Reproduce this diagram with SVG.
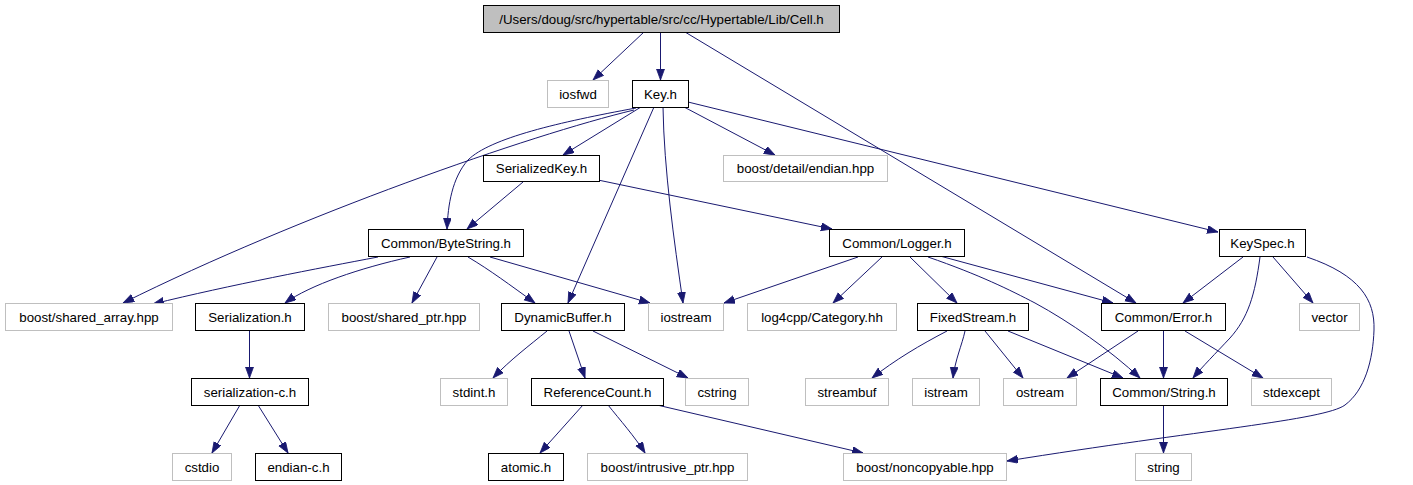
<svg xmlns="http://www.w3.org/2000/svg" width="1413" height="485" viewBox="0 0 1413 485">
<style>
.n rect{fill:#fff;stroke:#000;stroke-width:1}
.n.ext rect{stroke:#bfbfbf}
.n.root rect{fill:#bfbfbf}
.n text{font-family:"Liberation Sans",Arial,Helvetica,sans-serif;font-size:13.3px;fill:#000;text-anchor:middle}
#edges path{fill:none;stroke:#191970;stroke-width:1;marker-end:url(#ah)}
</style>
<defs>
<marker id="ah" markerUnits="userSpaceOnUse" markerWidth="13" markerHeight="10" refX="11" refY="4" orient="auto">
<path d="M0,0 L11,4 L0,8 z" fill="#191970" stroke="#191970" stroke-width="0.8"/>
</marker>
</defs>
<rect width="1413" height="485" fill="#fff"/>
<g id="edges">
<path d="M644,32 L593,80"/>
<path d="M660.5,32 L660.5,80"/>
<path d="M685,32 L1136,303"/>
<path d="M634,110 C530,135 300,215 123,303"/>
<path d="M636,108 C560,122 490,138 468,160 C452,178 448,205 447,229"/>
<path d="M641,107 L563,155"/>
<path d="M654,107 L568,303"/>
<path d="M663,107 C664,170 674,240 683,303"/>
<path d="M684,107 L775,155"/>
<path d="M688,102 L1218,232"/>
<path d="M523,182 L467,229"/>
<path d="M598,180 L832,229"/>
<path d="M378,257 C320,268 230,285 153,304"/>
<path d="M410,257 C360,268 310,285 285,303"/>
<path d="M437,257 L412,303"/>
<path d="M468,257 C490,270 510,285 535,303"/>
<path d="M490,257 L650,303"/>
<path d="M858,257 L724,303"/>
<path d="M882,257 L833,303"/>
<path d="M910,257 L957,303"/>
<path d="M940,256 L1113,303"/>
<path d="M928,257 C980,275 1010,290 1035,303 C1070,322 1110,350 1140,378"/>
<path d="M1243,257 L1183,303"/>
<path d="M1260,257 C1255,295 1248,318 1230,338 C1215,354 1203,366 1193,378"/>
<path d="M1273,257 L1313,303"/>
<path d="M1307,257 C1360,275 1375,300 1374,330 C1373,360 1365,390 1345,405 C1325,420 1200,430 1007,461"/>
<path d="M1138,331 L1067,378"/>
<path d="M1163.5,331 L1163.5,378"/>
<path d="M1185,331 L1263,378"/>
<path d="M947,331 C920,345 895,360 872,378"/>
<path d="M965,331 C962,345 955,360 953,378"/>
<path d="M985,331 L1023,378"/>
<path d="M1008,331 L1123,378"/>
<path d="M1163.5,405 L1163.5,453"/>
<path d="M547,331 C530,345 510,360 493,378"/>
<path d="M569,331 L585,378"/>
<path d="M593,331 L688,378"/>
<path d="M583,405 L540,453"/>
<path d="M608,405 C620,420 635,437 645,453"/>
<path d="M657,405 L863,453"/>
<path d="M249.5,331 L249.5,378"/>
<path d="M240,405 L212,453"/>
<path d="M258,405 L288,453"/>
</g>
<g id="cell" class="n root"><rect x="483.5" y="5.5" width="356" height="27"/><text x="661.5" y="23.5">/Users/doug/src/hypertable/src/cc/Hypertable/Lib/Cell.h</text></g>
<g id="iosfwd" class="n ext"><rect x="547.5" y="80.5" width="61" height="27"/><text x="578" y="98.5">iosfwd</text></g>
<g id="key" class="n"><rect x="632.5" y="80.5" width="56" height="27"/><text x="660.5" y="98.5">Key.h</text></g>
<g id="serializedkey" class="n"><rect x="483.5" y="155.5" width="116" height="26"/><text x="541.5" y="173">SerializedKey.h</text></g>
<g id="endian" class="n ext"><rect x="723.5" y="155.5" width="164" height="26"/><text x="805.5" y="173">boost/detail/endian.hpp</text></g>
<g id="bytestring" class="n"><rect x="368.5" y="229.5" width="155" height="27"/><text x="446" y="247.5">Common/ByteString.h</text></g>
<g id="logger" class="n"><rect x="829.5" y="229.5" width="135" height="27"/><text x="897" y="247.5">Common/Logger.h</text></g>
<g id="keyspec" class="n"><rect x="1219.5" y="229.5" width="86" height="27"/><text x="1262.5" y="247.5">KeySpec.h</text></g>
<g id="sharedarray" class="n ext"><rect x="5.5" y="303.5" width="167" height="27"/><text x="89" y="321.5">boost/shared_array.hpp</text></g>
<g id="serialization" class="n"><rect x="195.5" y="303.5" width="109" height="27"/><text x="250" y="321.5">Serialization.h</text></g>
<g id="sharedptr" class="n ext"><rect x="328.5" y="303.5" width="151" height="27"/><text x="404" y="321.5">boost/shared_ptr.hpp</text></g>
<g id="dynamicbuffer" class="n"><rect x="501.5" y="303.5" width="123" height="27"/><text x="563" y="321.5">DynamicBuffer.h</text></g>
<g id="iostream" class="n ext"><rect x="648.5" y="303.5" width="75" height="27"/><text x="686" y="321.5">iostream</text></g>
<g id="category" class="n ext"><rect x="747.5" y="303.5" width="149" height="27"/><text x="822" y="321.5">log4cpp/Category.hh</text></g>
<g id="fixedstream" class="n"><rect x="917.5" y="303.5" width="111" height="27"/><text x="973" y="321.5">FixedStream.h</text></g>
<g id="error" class="n"><rect x="1101.5" y="303.5" width="124" height="27"/><text x="1163.5" y="321.5">Common/Error.h</text></g>
<g id="vector" class="n ext"><rect x="1299.5" y="303.5" width="60" height="27"/><text x="1329.5" y="321.5">vector</text></g>
<g id="serializationc" class="n"><rect x="191.5" y="378.5" width="117" height="27"/><text x="250" y="396.5">serialization-c.h</text></g>
<g id="stdint" class="n ext"><rect x="440.5" y="378.5" width="67" height="27"/><text x="474" y="396.5">stdint.h</text></g>
<g id="referencecount" class="n"><rect x="531.5" y="378.5" width="132" height="27"/><text x="597.5" y="396.5">ReferenceCount.h</text></g>
<g id="cstring" class="n ext"><rect x="685.5" y="378.5" width="63" height="27"/><text x="717" y="396.5">cstring</text></g>
<g id="streambuf" class="n ext"><rect x="805.5" y="378.5" width="83" height="27"/><text x="847" y="396.5">streambuf</text></g>
<g id="istream" class="n ext"><rect x="912.5" y="378.5" width="67" height="27"/><text x="946" y="396.5">istream</text></g>
<g id="ostream" class="n ext"><rect x="1003.5" y="378.5" width="73" height="27"/><text x="1040" y="396.5">ostream</text></g>
<g id="commonstring" class="n"><rect x="1100.5" y="378.5" width="127" height="27"/><text x="1164" y="396.5">Common/String.h</text></g>
<g id="stdexcept" class="n ext"><rect x="1251.5" y="378.5" width="80" height="27"/><text x="1291.5" y="396.5">stdexcept</text></g>
<g id="cstdio" class="n ext"><rect x="172.5" y="453.5" width="59" height="27"/><text x="202" y="471.5">cstdio</text></g>
<g id="endianc" class="n"><rect x="255.5" y="453.5" width="86" height="27"/><text x="298.5" y="471.5">endian-c.h</text></g>
<g id="atomic" class="n"><rect x="488.5" y="453.5" width="75" height="27"/><text x="526" y="471.5">atomic.h</text></g>
<g id="intrusive" class="n ext"><rect x="587.5" y="453.5" width="160" height="27"/><text x="667.5" y="471.5">boost/intrusive_ptr.hpp</text></g>
<g id="noncopyable" class="n ext"><rect x="843.5" y="453.5" width="163" height="27"/><text x="925" y="471.5">boost/noncopyable.hpp</text></g>
<g id="string" class="n ext"><rect x="1135.5" y="453.5" width="56" height="27"/><text x="1163.5" y="471.5">string</text></g>
</svg>
